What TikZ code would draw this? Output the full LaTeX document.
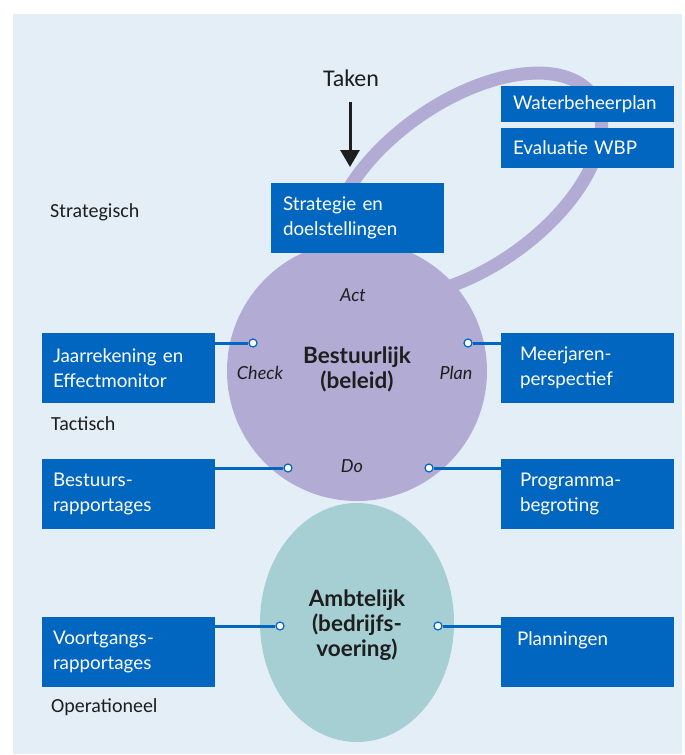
\documentclass[tikz,border=0pt]{standalone}
\usepackage{fontspec}
\setmainfont{Lato}
\newfontfamily\levelfont{Carlito}
\usetikzlibrary{arrows.meta,shapes.geometric}

\definecolor{panelbg}{HTML}{E4EEF7}
\definecolor{boxblue}{HTML}{0066BF}
\definecolor{lavender}{HTML}{B2ABD3}
\definecolor{seafoam}{HTML}{A6CFD4}
\definecolor{ink}{HTML}{1E1E1E}

\begin{document}
\begin{tikzpicture}[x=1pt,y=-1pt,
  box/.style={fill=boxblue, text=white, inner ysep=0pt, minimum height=70pt,
    align=left, font=\fontsize{18.8}{25}\selectfont},
  leftbox/.style={box, inner xsep=11pt, text width=151pt},
  rightbox/.style={box, inner xsep=19pt, text width=135pt},
  thinbox/.style={box, inner xsep=12pt, text width=149pt},
  level/.style={text=ink, anchor=west, inner sep=0pt, font=\levelfont\fontsize{20}{24}\selectfont},
  phase/.style={text=ink, inner sep=0pt, font=\itshape\fontsize{18}{20}\selectfont},
  title/.style={text=ink, align=center, inner sep=0pt, font=\bfseries\fontsize{22.5}{25}\selectfont},
  conn/.style={draw=boxblue, line width=3pt},
  dot/.style={circle, fill=white, draw=boxblue, line width=1.2pt, inner sep=0pt, minimum size=8pt},
  ring/.style={draw=lavender, line width=13pt}
]
\useasboundingbox (0,0) rectangle (685,755);
\fill[panelbg] (13,14) rectangle (682,754);

% feedback loop from the policy cycle to the long-term plans
\draw[ring] (466,185) ellipse [x radius=155, y radius=83, rotate=35];

% the two management levels
\node[circle, fill=lavender, minimum size=260pt, inner sep=0pt] (beleid) at (357,371) {};
\node[ellipse, fill=seafoam, minimum width=194pt, minimum height=239pt, inner sep=0pt] (bedrijf) at (357,622.5) {};

\node[title] (beleid-t) at (357,369) {Bestuurlijk\\(beleid)};
\node[title] (bedrijf-t) at (357,625) {Ambtelijk\\(bedrijfs-\\voering)};

% PDCA labels
\node[phase] (act) at (353,295) {Act};
\node[phase] (check) at (260,373) {Check};
\node[phase] (plan) at (456,373) {Plan};
\node[phase] (do) at (352,466) {Do};

% level captions
\node[level] (strat) at (50,212) {Strategisch};
\node[level] (tact) at (51,424) {Tactisch};
\node[level] (oper) at (51,707) {Operationeel};

% incoming tasks
\node[text=ink, inner sep=0pt, font=\levelfont\fontsize{24}{28}\selectfont] (taken) at (351,78) {Taken};
\coordinate (taken-start) at (350,102);
\coordinate (taken-end) at (350,167);
\draw[ink, line width=3pt, -{Triangle[width=19pt,length=17pt]}] (taken-start) -- (taken-end);

% documents
\node[thinbox] (strategie) at (357.5,218) {Strategie en\\doelstellingen};
\node[thinbox, minimum height=36pt] (wbp) at (587.5,104) {Waterbeheerplan};
\node[thinbox, minimum height=40pt] (evaluatie) at (587.5,148) {Evaluatie WBP};

\node[leftbox] (jaar) at (128.5,368) {Jaarrekening en\\Effectmonitor};
\node[leftbox] (bestuurs) at (128.5,494) {Bestuurs-\\rapportages};
\node[leftbox] (voortgang) at (128.5,651.5) {Voortgangs-\\rapportages};

\node[rightbox] (meerjaren) at (587.5,368) {Meerjaren-\\perspectief};
\node[rightbox] (programma) at (587.5,494) {Programma-\\begroting};
\node[rightbox, inner xsep=16pt, text width=141pt] (planningen) at (587.5,651.5) {Planningen\\\mbox{}};

% attachment points on the cycles
\node[dot] (d-check) at (253,343) {};
\node[dot] (d-plan) at (468,343) {};
\node[dot] (d-do-l) at (288,468) {};
\node[dot] (d-do-r) at (429,468) {};
\node[dot] (d-vg) at (280,626) {};
\node[dot] (d-pl) at (438,626) {};

\draw[conn] (jaar.east |- d-check) -- (d-check.west);
\draw[conn] (meerjaren.west |- d-plan) -- (d-plan.east);
\draw[conn] (bestuurs.east |- d-do-l) -- (d-do-l.west);
\draw[conn] (programma.west |- d-do-r) -- (d-do-r.east);
\draw[conn] (voortgang.east |- d-vg) -- (d-vg.west);
\draw[conn] (planningen.west |- d-pl) -- (d-pl.east);
\end{tikzpicture}
\end{document}
